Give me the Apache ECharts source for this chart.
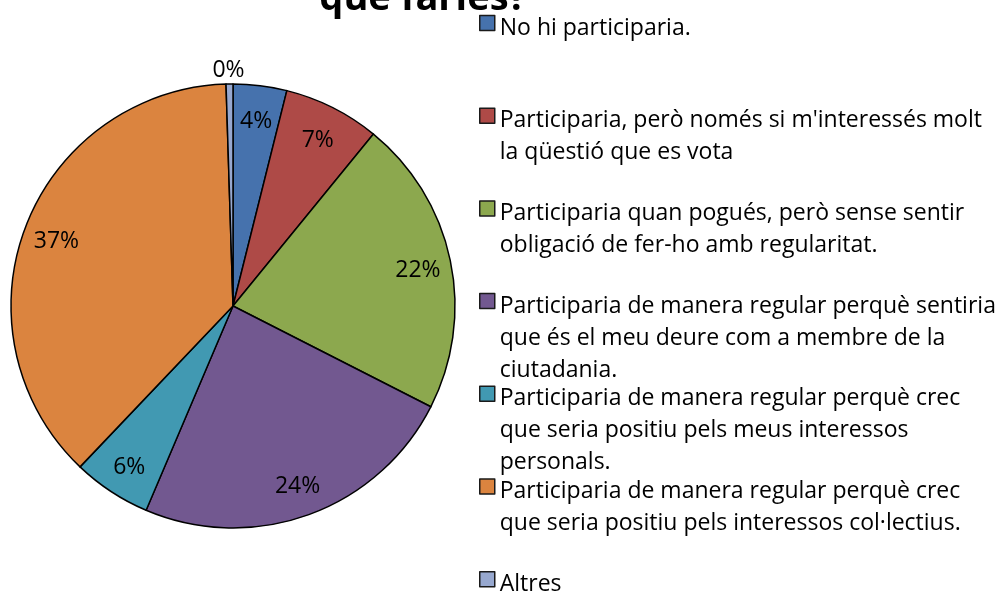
<!DOCTYPE html>
<html>
<head>
<meta charset="utf-8">
<style>
html, body { margin: 0; padding: 0; background: #fff; }
#chart { width: 1003px; height: 593px; }
</style>
</head>
<body>
<div id="chart"></div>
<script src="https://cdn.jsdelivr.net/npm/echarts@6/dist/echarts.min.js"></script>
<script>
  // dades
  const titleText = 'que faries?'
  const categories = [
    'No hi participaria.',
    "Participaria, però només si m'interessés molt\nla qüestió que es vota",
    'Participaria quan pogués, però sense sentir\nobligació de fer-ho amb regularitat.',
    'Participaria de manera regular perquè sentiria\nque és el meu deure com a membre de la\nciutadania.',
    'Participaria de manera regular perquè crec\nque seria positiu pels meus interessos\npersonals.',
    'Participaria de manera regular perquè crec\nque seria positiu pels interessos col·lectius.',
    'Altres'
  ]
  const values = [3.9, 7.0, 21.6, 23.9, 5.7, 37.4, 0.5]
  const colors = ['#4672AD', '#AE4A47', '#8CA84E', '#725890', '#4199B2', '#DB843F', '#97A8CF']

  const font = 'Open Sans'
  const fontSize = 23
  const lineH = 32
  const shift = 5 // text sits a little below the legend square
  const legendTop0 = 27
  const legendStep = 92.7

  // one legend per entry so the entries are evenly spaced like the original,
  // with the square beside the first line of text
  const legends = categories.map(function (name, i) {
    const lines = name.split('\n')
    const n = lines.length
    const boxH = 2 * shift + (2 * n - 1) * lineH
    return {
      left: 479,
      top: legendTop0 + i * legendStep - boxH / 2,
      orient: 'vertical',
      padding: 0,
      icon: 'rect',
      itemWidth: 15,
      itemHeight: 15,
      selectedMode: false,
      data: [name],
      itemStyle: { borderColor: '#1a1a1a', borderWidth: 1.5 },
      formatter: function () {
        let s = '{s| }\n'
        for (let k = 1; k < n; k++) s += '{t| }\n'
        return s + lines.map(function (l) { return '{t|' + l + '}' }).join('\n')
      },
      textStyle: {
        fontFamily: font,
        fontSize: fontSize,
        color: '#000',
        rich: {
          s: { fontSize: 2, lineHeight: 2 * shift },
          t: { fontFamily: font, fontSize: fontSize, lineHeight: lineH, color: '#000' }
        }
      }
    }
  })

  const sliceData = categories.map(function (name, i) {
    return { name: name, value: values[i], itemStyle: { color: colors[i] } }
  })
  const labelData = categories.map(function (name, i) {
    const item = { name: name, value: values[i] }
    if (values[i] < 1) {
      item.label = { position: 'outside' }
      item.labelLine = { show: false, length: 2, length2: 0 }
    }
    return item
  })

  const chart = echarts.init(document.getElementById('chart'))
  chart.setOption({
    backgroundColor: '#fff',
    animation: false,
    color: colors,
    title: {
      text: titleText,
      left: 418,
      textAlign: 'center',
      top: -25,
      textStyle: { fontFamily: font, fontWeight: 'bold', fontSize: 38, color: '#000' }
    },
    legend: legends,
    series: [
      {
        type: 'pie',
        center: [233, 306],
        radius: [0, 222],
        startAngle: 90,
        clockwise: true,
        silent: true,
        label: { show: false },
        labelLine: { show: false },
        itemStyle: { borderColor: '#000', borderWidth: 1.5 },
        data: sliceData
      },
      {
        // only carries the percentage labels
        type: 'pie',
        center: [233, 306],
        radius: [150, 222],
        startAngle: 90,
        clockwise: true,
        silent: true,
        avoidLabelOverlap: false,
        percentPrecision: 0,
        itemStyle: { color: 'rgba(0,0,0,0)', borderWidth: 0 },
        label: {
          show: true,
          position: 'inside',
          formatter: '{d}%',
          fontFamily: font,
          fontSize: fontSize,
          color: '#000'
        },
        labelLine: { show: false },
        labelLayout: function (params) {
          if (params.dataIndex === values.length - 1) {
            return { align: 'center', verticalAlign: 'bottom', dx: 4 }
          }
          return { dy: 3 }
        },
        data: labelData
      }
    ]
  })
</script>
</body>
</html>
